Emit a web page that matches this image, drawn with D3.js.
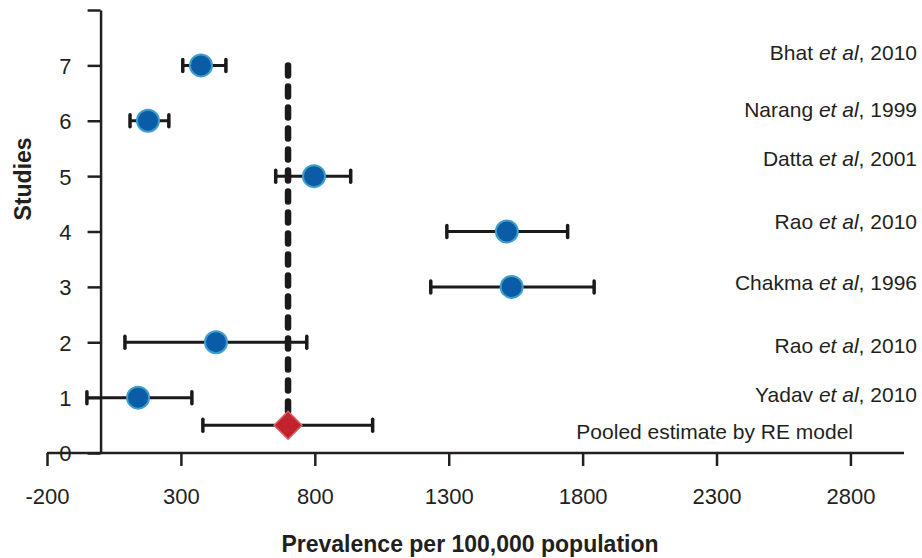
<!DOCTYPE html>
<html lang="en">
<head>
  <meta charset="UTF-8">
  <title>Forest plot - prevalence per 100,000</title>
  <script src="https://d3js.org/d3.v7.min.js"></script>
  <style>
    body { margin: 0; background: #fff; }
    text { font-family: Arial, "Liberation Sans", sans-serif; fill: #231f20; }
    .axis path, .axis line { stroke: #231f20; stroke-width: 2.5px; }
    .axis text { font-size: 22px; }
    .title { font-size: 23px; font-weight: bold; }
    .study { font-size: 21px; }
    .ci { stroke: #1a1a1a; stroke-width: 3px; fill: none; }
    .cap { stroke: #1a1a1a; stroke-width: 3.5px; stroke-linecap: round; }
  </style>
</head>
<body>
  <svg></svg>
  <script>
    // studies, bottom (1) to top (7)
    const authors = ["Yadav", "Rao", "Chakma", "Rao", "Datta", "Narang", "Bhat"];
    const years = [2010, 2010, 1996, 2010, 2001, 1999, 2010];
    const estimate = [140, 431, 1535, 1517, 797, 177, 375];
    const lower = [-51, 91, 1233, 1293, 654, 110, 307];
    const upper = [341, 770, 1843, 1744, 934, 255, 468];
    // where each study label sits on the y scale
    const labelAt = [0.92, 1.81, 2.94, 4.04, 5.18, 6.06, 7.09];

    const pooledLabel = "Pooled estimate by RE model";
    const pooledRow = 0.5;
    const pooledEst = 700;
    const pooledLower = 382;
    const pooledUpper = 1016;

    const xTicks = [-200, 300, 800, 1300, 1800, 2300, 2800];
    const yTicks = [0, 1, 2, 3, 4, 5, 6, 7, 8];

    const width = 922;
    const height = 558;

    const svg = d3.select("svg")
        .attr("width", width)
        .attr("height", height);

    const x = d3.scaleLinear().domain([-200, 3000]).range([47, 904]);
    const y = d3.scaleLinear().domain([0, 8]).range([453, 10]);

    // x axis
    const xAxis = svg.append("g")
        .attr("class", "axis")
        .attr("transform", `translate(0,${y(0)})`)
        .call(d3.axisBottom(x).tickValues(xTicks).tickSize(13).tickSizeOuter(0).tickPadding(22)
            .tickFormat(d => String(d)));
    xAxis.select(".domain").attr("d", `M${x(-200)},0H${x(3000)}`);

    // y axis
    const yAxis = svg.append("g")
        .attr("class", "axis")
        .attr("transform", `translate(${x(0)},0)`)
        .call(d3.axisLeft(y).tickValues(yTicks).tickSize(13).tickSizeOuter(0).tickPadding(16)
            .tickFormat(d => d === 8 ? "" : String(d)));
    yAxis.selectAll(".tick text").attr("dy", "0.36em");

    // axis titles
    svg.append("text")
        .attr("class", "title")
        .attr("x", 470)
        .attr("y", 552)
        .attr("text-anchor", "middle")
        .text("Prevalence per 100,000 population");

    svg.append("text")
        .attr("class", "title")
        .attr("transform", `translate(31,${y(4.95)}) rotate(-90)`)
        .attr("text-anchor", "middle")
        .text("Studies");

    // pooled reference line
    svg.append("line")
        .attr("x1", x(pooledEst)).attr("x2", x(pooledEst))
        .attr("y1", y(7)).attr("y2", y(pooledRow))
        .attr("stroke", "#1a1a1a")
        .attr("stroke-width", 6.5)
        .attr("stroke-linecap", "round")
        .attr("stroke-dasharray", "10,11");

    const rows = authors.map((a, i) => ({
        author: a, year: years[i], est: estimate[i], lo: lower[i], hi: upper[i], row: i + 1, labelY: labelAt[i]
    }));

    // confidence intervals
    const ciData = rows.concat([{ est: pooledEst, lo: pooledLower, hi: pooledUpper, row: pooledRow }]);
    const ci = svg.append("g");
    ci.selectAll("line.ci")
        .data(ciData)
        .join("line")
        .attr("class", "ci")
        .attr("x1", d => x(d.lo)).attr("x2", d => x(d.hi))
        .attr("y1", d => y(d.row)).attr("y2", d => y(d.row));
    ci.selectAll("line.capL")
        .data(ciData)
        .join("line")
        .attr("class", "cap capL")
        .attr("x1", d => x(d.lo)).attr("x2", d => x(d.lo))
        .attr("y1", d => y(d.row) - 6).attr("y2", d => y(d.row) + 6);
    ci.selectAll("line.capR")
        .data(ciData)
        .join("line")
        .attr("class", "cap capR")
        .attr("x1", d => x(d.hi)).attr("x2", d => x(d.hi))
        .attr("y1", d => y(d.row) - 6).attr("y2", d => y(d.row) + 6);

    // study points
    svg.append("g").selectAll("circle")
        .data(rows)
        .join("circle")
        .attr("cx", d => x(d.est))
        .attr("cy", d => y(d.row))
        .attr("r", 11)
        .attr("fill", "#0b5ca6")
        .attr("stroke", "#3d9fcc")
        .attr("stroke-width", 2);

    // pooled diamond
    const dh = 14;
    svg.append("path")
        .attr("d", `M${x(pooledEst)},${y(pooledRow) - dh}L${x(pooledEst) + dh},${y(pooledRow)}L${x(pooledEst)},${y(pooledRow) + dh}L${x(pooledEst) - dh},${y(pooledRow)}Z`)
        .attr("fill", "#c1232d")
        .attr("stroke", "#d9606a")
        .attr("stroke-width", 1.5);

    // study labels
    const labels = svg.append("g").selectAll("text")
        .data(rows)
        .join("text")
        .attr("class", "study")
        .attr("x", 917)
        .attr("y", d => y(d.labelY))
        .attr("text-anchor", "end");
    labels.append("tspan").text(d => d.author + " ");
    labels.append("tspan").attr("font-style", "italic").text("et al");
    labels.append("tspan").text(d => ", " + d.year);

    svg.append("text")
        .attr("class", "study")
        .attr("x", 853)
        .attr("y", y(0.25))
        .attr("text-anchor", "end")
        .text(pooledLabel);
  </script>
</body>
</html>
